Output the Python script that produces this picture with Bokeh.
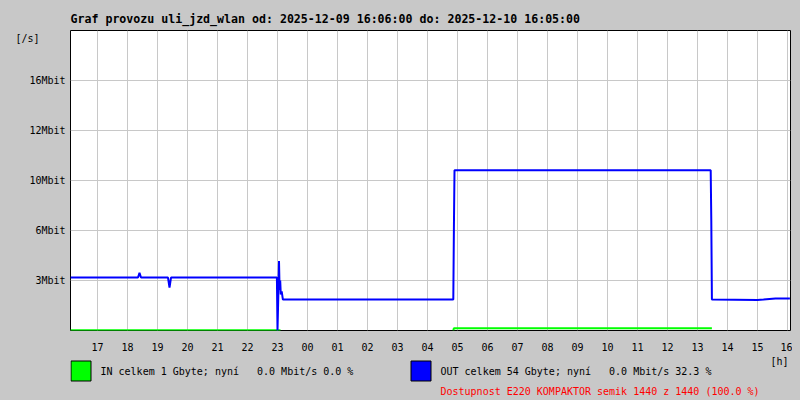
from bokeh.plotting import figure
from bokeh.models import FixedTicker, Range1d, LinearAxis
from bokeh.layouts import column
from bokeh.core.properties import value
from bokeh.embed import file_html
from bokeh.resources import INLINE

NaN = float("nan")
NB = "\u00a0"

# ---- texts ----
title_text = "Graf provozu uli_jzd_wlan od: 2025-12-09 16:06:00 do: 2025-12-10 16:05:00"
y_unit_text = "[/s]"
x_unit_text = "[h]"
in_legend = "IN celkem 1 Gbyte; nyní " + NB + NB + "0.0 Mbit/s 0.0 %"
out_legend = "OUT celkem 54 Gbyte; nyní " + NB + NB + "0.0 Mbit/s 32.3 %"
avail_text = "Dostupnost E220 KOMPAKTOR semik 1440 z 1440 (100.0 %)"

# ---- axes (hours since midnight of 2025-12-09) ----
hour_ticks = [17, 18, 19, 20, 21, 22, 23, 24, 25, 26, 27, 28,
              29, 30, 31, 32, 33, 34, 35, 36, 37, 38, 39, 40]
hour_labels = ["17", "18", "19", "20", "21", "22", "23", "00", "01", "02", "03", "04",
               "05", "06", "07", "08", "09", "10", "11", "12", "13", "14", "15", "16"]
y_ticks = [3.2, 6.4, 9.6, 12.8, 16.0]
y_labels = ["3Mbit", "6Mbit", "10Mbit", "12Mbit", "16Mbit"]
y_unit_pos = [18.72]

# ---- data (Mbit/s) ----
out_t = [16.10, 18.35, 18.40, 18.45, 19.35, 19.40, 19.45, 22.98, 23.00, 23.03,
         23.05, 23.07, 23.09, 23.11, 23.14, 23.18, 28.86, 28.88, 28.90, 37.44,
         37.46, 37.48, 37.50, 39.00, 39.20, 39.60, 40.08]
out_v = [3.39, 3.39, 3.70, 3.39, 3.39, 2.75, 3.39, 3.39, 0.00, 2.50,
         4.45, 2.60, 3.20, 2.30, 2.50, 1.98, 1.98, 6.50, 10.25, 10.25,
         7.00, 2.00, 1.98, 1.95, 1.98, 2.05, 2.05]

in_t = [16.10, 23.10, 23.11, 28.86, 28.88, 37.48]
in_v = [0.02, 0.02, NaN, 0.00, 0.15, 0.15]

legend_colors = ["#00ff00", "#0000ff"]

FONT = "DejaVu Sans Mono"
BG = "#c8c8c8"

# ---------------- main chart ----------------
p = figure(width=792, height=354, output_backend="svg", toolbar_location=None,
           x_range=Range1d(16.1, 40.1), y_range=Range1d(0, 19.2),
           min_border_left=70, min_border_right=2, min_border_top=30, min_border_bottom=24)
p.background_fill_color = "white"
p.border_fill_color = BG
p.outline_line_color = "black"
p.outline_line_width = 1

p.title.text = title_text
p.title.text_font = FONT
p.title.text_font_size = "11.6px"
p.title.text_font_style = "bold"
p.title.text_color = "black"
p.title.align = "left"
p.title.offset = 0
p.title.standoff = 10

xax = p.below[0]
yax = p.left[0]
xax.ticker = FixedTicker(ticks=hour_ticks)
xax.major_label_overrides = dict(zip(hour_ticks, hour_labels))
yax.ticker = FixedTicker(ticks=y_ticks)
yax.major_label_overrides = dict(zip(y_ticks, y_labels))

yax2 = LinearAxis(ticker=FixedTicker(ticks=y_unit_pos),
                  major_label_overrides=dict(zip(y_unit_pos, [y_unit_text])))
p.add_layout(yax2, "left")

for ax in (xax, yax, yax2):
    ax.axis_line_color = None
    ax.major_tick_line_color = None
    ax.minor_tick_line_color = None
    ax.major_tick_out = 0
    ax.major_tick_in = 0
    ax.minor_tick_out = 0
    ax.minor_tick_in = 0
    ax.major_label_text_font = FONT
    ax.major_label_text_font_size = "10px"
    ax.major_label_text_color = "black"
xax.major_label_standoff = 12
yax.major_label_standoff = 5
yax2.major_label_standoff = -13
yax2.major_label_text_align = "center"

p.grid.grid_line_color = BG
p.grid.grid_line_width = 1

p.line(in_t, in_v, color="#00ff00", line_width=2)
p.line(out_t, out_v, color="#0000ff", line_width=2)

# ---------------- legend strip (pixel coordinates) ----------------
q = figure(width=792, height=46, output_backend="svg", toolbar_location=None,
           x_range=Range1d(70, 790), y_range=Range1d(400, 354),
           x_axis_location=None, y_axis_location=None,
           min_border_left=70, min_border_right=2, min_border_top=0, min_border_bottom=0)
q.grid.visible = False
q.outline_line_color = None
q.background_fill_color = BG
q.border_fill_color = BG

q.quad(left=[70.5, 410.5], right=[90.5, 430.5], top=[360.5, 360.5], bottom=[380.5, 380.5],
       fill_color=legend_colors, line_color="black", line_width=1)
q.text(x=[100, 440, 440, 770], y=[371, 371, 391, 361],
       text=[in_legend, out_legend, avail_text, x_unit_text],
       text_color=["black", "black", "#ff0000", "black"],
       text_font=value(FONT), text_font_size=value("10px"),
       text_baseline="alphabetic", text_align="left")

layout = column(p, q, spacing=0)
html = file_html(layout, INLINE)
html = html.replace("</head>", "<style>html,body{background:#c8c8c8;}</style></head>", 1)
open("out.html", "w").write(html)
